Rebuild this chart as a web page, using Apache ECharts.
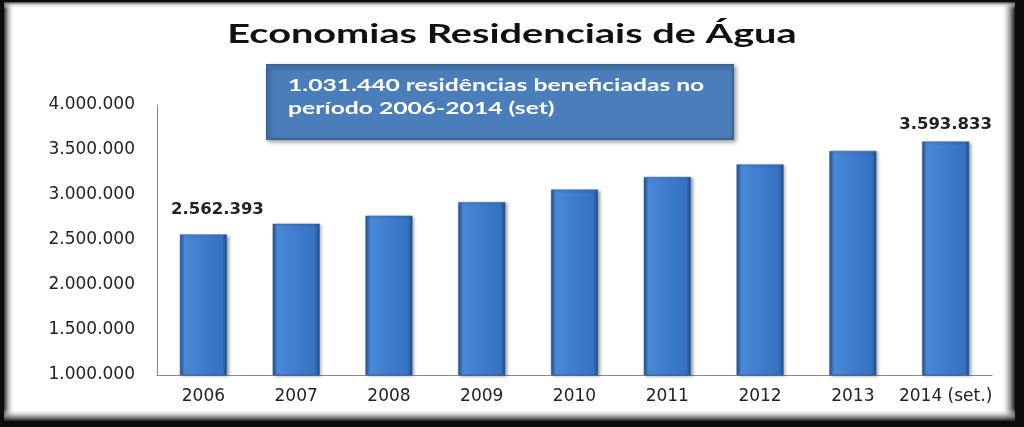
<!DOCTYPE html>
<html><head><meta charset="utf-8">
<script src="https://cdn.jsdelivr.net/npm/echarts@6/dist/echarts.min.js"></script>
<style>html,body{margin:0;padding:0;background:#000;}#c{width:1024px;height:427px;}</style>
</head><body><div id="c"></div>
<script>
const categories = ['2006','2007','2008','2009','2010','2011','2012','2013','2014 (set.)'];
const values = [2562393, 2680000, 2770000, 2920000, 3060000, 3200000, 3340000, 3490000, 3593833];
const labeledIdx = [0, 8];
const titleText = 'Economias Residenciais de Água';
const boxText = '1.031.440 residências beneficiadas no\nperíodo 2006-2014 (set)';

function fmt(v){ return String(Math.round(v)).replace(/\B(?=(\d{3})+(?!\d))/g, '.'); }

const chart = echarts.init(document.getElementById('c'), null, {renderer:'canvas'});
const LG = echarts.graphic.LinearGradient;
const barGrad = new LG(0,0,1,0,[
  {offset:0,color:'#244f8e'},{offset:0.1,color:'#4a89d8'},{offset:0.5,color:'#3e7ccd'},
  {offset:0.9,color:'#3672c1'},{offset:1,color:'#214a86'}]);

chart.setOption({
  animation:false,
  backgroundColor:'#0c0c0c',
  graphic:[
    {type:'rect',z:-10,silent:true,shape:{x:4,y:2,width:1011,height:419},style:{fill:'#ffffff'}},
    {type:'rect',z:-9,silent:true,shape:{x:4,y:2,width:11,height:419},
      style:{fill:new LG(0,0,1,0,[{offset:0,color:'rgba(40,40,40,1)'},{offset:0.4,color:'rgba(150,150,150,0.7)'},{offset:1,color:'rgba(255,255,255,0)'}])}},
    {type:'rect',z:-9,silent:true,shape:{x:1001,y:2,width:14,height:419},
      style:{fill:new LG(0,0,1,0,[{offset:0,color:'rgba(255,255,255,0)'},{offset:0.6,color:'rgba(140,140,140,0.8)'},{offset:1,color:'rgba(30,30,30,1)'}])}},
    {type:'rect',z:-9,silent:true,shape:{x:4,y:2,width:1011,height:7},
      style:{fill:new LG(0,0,0,1,[{offset:0,color:'rgba(60,60,60,1)'},{offset:0.4,color:'rgba(190,190,190,0.6)'},{offset:1,color:'rgba(255,255,255,0)'}])}},
    {type:'rect',z:-9,silent:true,shape:{x:4,y:409,width:1011,height:12},
      style:{fill:new LG(0,0,0,1,[{offset:0,color:'rgba(255,255,255,0)'},{offset:0.6,color:'rgba(140,140,140,0.8)'},{offset:1,color:'rgba(30,30,30,1)'}])}},
    {type:'text',z:5,x:512,y:34,scaleX:1.47,
      style:{text:titleText,fill:'#111',font:'bold 27px Lato, "Open Sans", sans-serif',textAlign:'center',textVerticalAlign:'middle'}},
    {type:'rect',z:10,shape:{x:267,y:65,width:466,height:74},
      style:{fill:'#4a7ebb',stroke:'#3a6597',lineWidth:2,shadowBlur:4,shadowColor:'rgba(0,0,0,0.35)',shadowOffsetX:2,shadowOffsetY:2}},
    {type:'text',z:11,x:288,y:74,scaleX:1.45,
      style:{text:boxText,fill:'#ffffff',font:'bold 17px Lato, "Open Sans", sans-serif',lineHeight:23}}
  ],
  grid:{left:157,right:32,top:105,bottom:52,containLabel:false},
  xAxis:{type:'category',data:categories,
    axisLine:{lineStyle:{color:'#8a8a8a',width:1}},axisTick:{show:false},
    axisLabel:{margin:13,fontFamily:'"DejaVu Sans", Verdana, sans-serif',fontSize:17,color:'#222',interval:0}},
  yAxis:{type:'value',min:1000000,max:4000000,interval:500000,
    axisLine:{show:true,lineStyle:{color:'#8a8a8a',width:1}},axisTick:{show:false},
    splitLine:{show:false},
    axisLabel:{margin:22,fontFamily:'"DejaVu Sans", Verdana, sans-serif',fontSize:17,color:'#222',formatter:fmt}},
  series:[{type:'bar',barWidth:47,
    data:values.map((v,i)=>{
      const d={value:v};
      if(labeledIdx.includes(i)){
        d.label={show:true,position:'top',distance:i===0?16:8,offset:i===0?[14,0]:[0,0],
          formatter:p=>fmt(p.value),fontFamily:'"DejaVu Sans", Verdana, sans-serif',fontWeight:'bold',fontSize:16.5,color:'#222'};
      }
      return d;
    }),
    itemStyle:{color:barGrad,borderColor:'#2a5a9c',borderWidth:0.5,shadowBlur:3,shadowColor:'rgba(0,0,0,0.35)',shadowOffsetX:2,shadowOffsetY:1}
  }]
});
</script></body></html>
